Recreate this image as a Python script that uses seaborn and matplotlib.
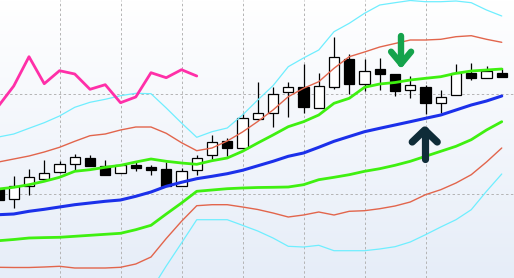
import numpy as np
import pandas as pd
import matplotlib
matplotlib.use("Agg")
import matplotlib.pyplot as plt
from matplotlib.colors import LinearSegmentedColormap
import seaborn as sns

# ---------------- data ----------------
idx = list(range(34))
open_ = [89, 79.5, 92.3, 99.3, 105.7, 114, 120, 112.3, 104.7, 112.7, 111, 109, 91.7, 108,
         123.3, 137.3, 130, 158.7, 165.3, 185.7, 190.7, 170.3, 191.3, 218.7, 193.7, 208.7,
         204, 188, 191, 174.7, 183, 204.7, 199.7, 205.3]
close = [78.5, 92, 100.7, 105, 114, 121, 112.3, 103.3, 112.7, 110, 107.7, 91.7, 106.7, 120.3,
         135.7, 130, 159.7, 165.3, 184, 190.7, 171.3, 192, 220.7, 193.7, 207, 203.7,
         187.3, 193, 174.7, 180.7, 205.3, 199.7, 207.3, 201.3]
high = [91, 102, 109, 118.3, 117.3, 124.3, 123.3, 117.7, 112.7, 116.7, 113, 116, 110, 123,
        143, 139.7, 164.7, 195.7, 190.7, 196.3, 214, 205.3, 240.7, 224, 218.7, 219.7,
        204, 202, 193, 188, 214, 214.7, 212.3, 209.7]
low = [75, 70, 83.3, 98.3, 105, 108.3, 112.3, 103.3, 104.7, 106.7, 103.3, 91.7, 91.7, 103,
       119, 121.7, 130, 158.5, 151.3, 161.3, 164.7, 169.7, 188.7, 184, 187.3, 188,
       182.5, 179.7, 163.7, 164.7, 183, 198, 199.7, 201.3]

mid_line = [63.3, 64, 66.7, 68.7, 71, 73.3, 75, 76.7, 78, 81.7, 86, 91.7, 95.7, 99.3, 101.7,
            104.3, 107.7, 112.2, 116.7, 121.7, 125, 130.7, 136.7, 141.5, 146.3, 149.7, 153,
            156.3, 159.7, 163, 168, 173, 177, 182]
upper_1 = [89, 90.7, 93.3, 96.7, 100.7, 106.7, 108.3, 110.7, 112.7, 116, 119, 116.7, 115,
           113.7, 117.3, 120, 126.7, 135, 143, 151.3, 156.3, 163, 174.7, 179.7, 190.7, 194,
           195.5, 198, 199.7, 201.3, 204.7, 207, 208, 209]
lower_1 = [37.3, 38.5, 40, 40.4, 40.7, 41.7, 42.7, 43.7, 44.7, 48.3, 52.7, 64, 75, 86.7, 88,
           89.3, 90, 90.5, 90.7, 91, 93.3, 98.3, 100.7, 103.3, 106.7, 109.3, 112.7, 116.7,
           121.7, 126.7, 131.7, 138.3, 148, 156.3]
upper_2 = [116, 119, 122, 126, 130.7, 136.7, 142.3, 144, 148, 151, 151, 144.7, 135.3, 127.3,
           130, 137, 146, 156.5, 168, 181.3, 189.7, 196.3, 209.7, 221.3, 226, 231, 234.5,
           238, 238, 238.7, 241.3, 242.3, 238.7, 235.7]
lower_2 = [10.7, 10.5, 10.5, 11, 11.7, 10, 10, 10, 10.7, 14, 21, 39.5, 56.7, 72.3, 73.3, 73.3,
           71, 68.5, 65, 61, 63, 66, 63, 66.7, 67.3, 69.3, 72, 76, 83.3, 88.3, 95, 103.3,
           116, 130]
upper_3 = [141, 144, 149.7, 155.3, 162, 170.7, 175.7, 178.7, 182.3, 184.7, 184.3, 170, 155,
           140.7, 146.3, 150, 163, 178, 192.3, 211.3, 220, 228, 246.3, 254.7, 264.7, 273,
           275.3, 277.5, 276.3, 276.3, 277, 275.3, 268, 262]
lower_3 = [-14.7, -16, -16.3, -18, -20, -24, -25.7, -25.3, -26.3, -21.3, -12.3, 12, 35, 58.3,
           58.3, 58.3, 52.7, 47, 40, 31.7, 31, 32.7, 27.3, 27.3, 27.3, 29, 31.3, 36, 43.3,
           51, 58.3, 68.3, 86.7, 104]
pink_idx = list(range(14))
pink_vals = [172, 192, 221.3, 194.3, 207.3, 204, 188.7, 193.3, 175.3, 181, 205.3, 200.3,
             208.3, 202]

grid_x = [4, 8, 12, 16, 20, 24, 28]
grid_y = [84, 184]

# arrows (index position, tail value, tip value)
down_arrow = dict(x=26.4, tail=241.7, tip=214.3)
up_arrow = dict(x=27.95, tail=119.5, tip=148.0)

# ---------------- figure ----------------
sns.set_style("white")
fig = plt.figure(figsize=(5.14, 2.78), dpi=100)
ax = fig.add_axes([0, 0, 1, 1])

cmap = LinearSegmentedColormap.from_list("bg", ["#ffffff", "#e6edf8"])
ax.imshow(np.linspace(0, 1, 256).reshape(-1, 1), cmap=cmap, aspect="auto",
          extent=[0, 1, 0, 1], transform=ax.transAxes, zorder=0)

for gx in grid_x:
    ax.axvline(gx, color="#b4b4b4", lw=0.7, ls=(0, (2.5, 2.5)), zorder=1)
for gy in grid_y:
    ax.axhline(gy, color="#b4b4b4", lw=0.7, ls=(0, (2.5, 2.5)), zorder=1)

# candles
o = np.array(open_)
c = np.array(close)
body_colors = ["white" if cc >= oo else "black" for oo, cc in zip(o, c)]
ax.vlines(idx, low, high, color="black", lw=0.9, zorder=2)
ax.bar(idx, np.maximum(np.abs(c - o), 0.8), bottom=np.minimum(o, c), width=0.66,
       color=body_colors, edgecolor="black", linewidth=0.9, zorder=3)

df = pd.DataFrame({"idx": idx, "mid": mid_line, "u1": upper_1, "l1": lower_1,
                   "u2": upper_2, "l2": lower_2, "u3": upper_3, "l3": lower_3})
styles = [("u3", "#6feeff", 0.9), ("l3", "#6feeff", 0.9),
          ("u2", "#e2654c", 1.0), ("l2", "#e2654c", 1.0),
          ("u1", "#3ff010", 2.0), ("l1", "#3ff010", 2.0),
          ("mid", "#1b30ea", 2.2)]
for col, colr, lw in styles:
    sns.lineplot(data=df, x="idx", y=col, color=colr, lw=lw, estimator=None,
                 ax=ax, zorder=5)
sns.lineplot(x=pink_idx, y=pink_vals, color="#ff2fa8", lw=2.0, estimator=None,
             ax=ax, zorder=5)

PX = 15.25  # pixels per index step (for arrow head sizes)


def draw_arrow(a, color, lw, half_w_px, arm_px):
    x, tail, tip = a["x"], a["tail"], a["tip"]
    s = 1 if tail > tip else -1
    kw = dict(color=color, lw=lw, solid_capstyle="round", solid_joinstyle="round",
              zorder=7)
    ax.plot([x, x], [tail, tip], **kw)
    hw = half_w_px / PX
    ax.plot([x - hw, x, x + hw], [tip + s * arm_px, tip, tip + s * arm_px], **kw)


draw_arrow(down_arrow, "#15a34c", 4.6, 10, 12)
draw_arrow(up_arrow, "#0f2c38", 5.2, 12.5, 12)

ax.set_xlim((0 + 1.5) / PX, (514 + 1.5) / PX)
ax.set_ylim(0, 278)
ax.set_xlabel("")
ax.set_ylabel("")
ax.set_xticks([])
ax.set_yticks([])
for sp in ax.spines.values():
    sp.set_visible(False)

fig.savefig("out.png", dpi=100)
